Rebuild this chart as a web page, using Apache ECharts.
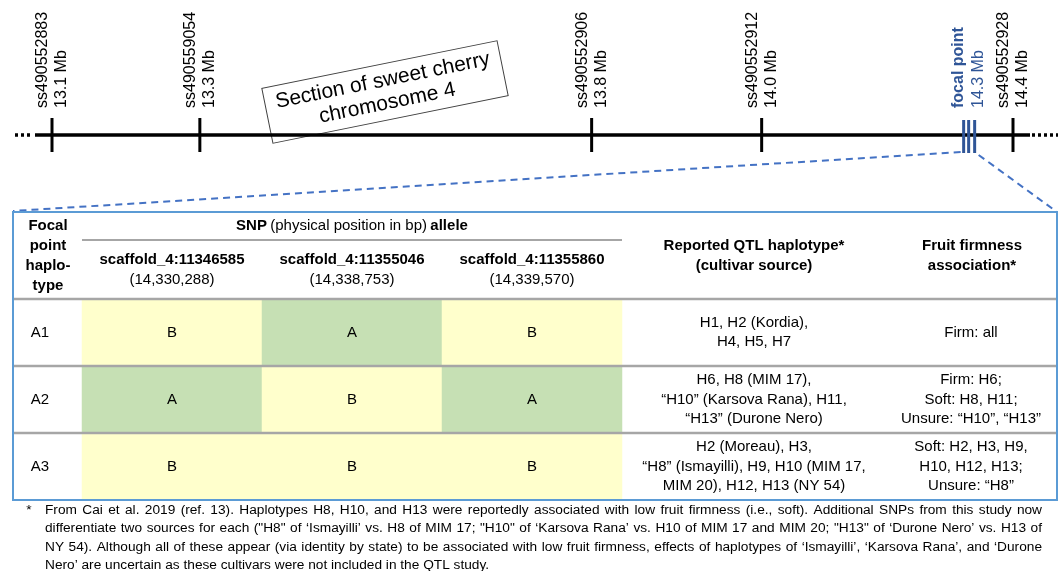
<!DOCTYPE html>
<html>
<head>
<meta charset="utf-8">
<script src="https://cdn.jsdelivr.net/npm/echarts@6/dist/echarts.min.js"></script>
<style>
  html, body { margin: 0; padding: 0; background: #fff; }
  #chart { width: 1060px; height: 571px; }
</style>
</head>
<body>
<div id="chart"></div>
<script>
// chromosome markers (schematic position along the drawn section, Mb)
const markerIds = ['ss490552883', 'ss490559054', 'ss490552906', 'ss490552912', 'ss490552928'];
const markerMb = ['13.1 Mb', '13.3 Mb', '13.8 Mb', '14.0 Mb', '14.4 Mb'];
const markerPos = [13.1, 13.3, 13.83, 14.06, 14.4];
const focalPos = 14.34;
const focalMb = '14.3 Mb';

// table
const haplotypes = ['A1', 'A2', 'A3'];
const snpIds = ['scaffold_4:11346585', 'scaffold_4:11355046', 'scaffold_4:11355860'];
const snpBp = ['(14,330,288)', '(14,338,753)', '(14,339,570)'];
const alleles = [
  ['B', 'A', 'B'],
  ['A', 'B', 'A'],
  ['B', 'B', 'B']
];
const qtlHaplotypes = [
  'H1, H2 (Kordia),\nH4, H5, H7',
  'H6, H8 (MIM 17),\n“H10” (Karsova Rana), H11,\n“H13” (Durone Nero)',
  'H2 (Moreau), H3,\n“H8” (Ismayilli), H9, H10 (MIM 17,\nMIM 20), H12, H13 (NY 54)'
];
const firmness = [
  'Firm: all',
  'Firm: H6;\nSoft: H8, H11;\nUnsure: “H10”, “H13”',
  'Soft: H2, H3, H9,\nH10, H12, H13;\nUnsure: “H8”'
];
const footnote = [
  'From Cai et al. 2019 (ref. 13). Haplotypes H8, H10, and H13 were reportedly associated with low fruit firmness (i.e., soft). Additional SNPs from this study now',
  'differentiate two sources for each ("H8" of ‘Ismayilli’ vs. H8 of MIM 17; "H10" of ‘Karsova Rana’ vs. H10 of MIM 17 and MIM 20; "H13" of ‘Durone Nero’ vs. H13 of',
  'NY 54). Although all of these appear (via identity by state) to be associated with low fruit firmness, effects of haplotypes of ‘Ismayilli’, ‘Karsova Rana’, and ‘Durone',
  'Nero’ are uncertain as these cultivars were not included in the QTL study.'
];

const FONT = '"Liberation Sans", Arial, sans-serif';
const BLUE = '#2F5597';
const LINK = '#4472C4';
const GREY = '#A6A6A6';
const TABLE = { left: 13, top: 212, right: 1057, bottom: 500 };
const LABEL_BASE = 108;
const NOTE_FONT = '13.7px ' + FONT;
const NOTE_LEFT = 45, NOTE_WIDTH = 997;

const chart = echarts.init(document.getElementById('chart'), null, { renderer: 'canvas' });

function vText(text, x, y, font, fill) {
  return {
    type: 'text', x: x, y: y, rotation: Math.PI / 2,
    style: { text: text, x: 0, y: 0, font: font, fill: fill, align: 'left', verticalAlign: 'middle' }
  };
}

function renderChromosome(params, api) {
  const y = api.coord([api.value(0), 0.5])[1];
  const x1 = api.coord([api.value(0), 0.5])[0] - 17;
  const x2 = api.coord([api.value(1), 0.5])[0] + 17;
  return {
    type: 'group',
    children: [
      { type: 'line', shape: { x1: x1, y1: y, x2: x2, y2: y }, style: { stroke: '#000', lineWidth: 3.5 } },
      { type: 'line', shape: { x1: x1 - 20, y1: y, x2: x1 - 2, y2: y }, style: { stroke: '#000', lineWidth: 3.5, lineDash: [3, 3] } },
      { type: 'line', shape: { x1: x2 + 2, y1: y, x2: x2 + 28, y2: y }, style: { stroke: '#000', lineWidth: 3.5, lineDash: [3, 3] } }
    ]
  };
}

function renderMarker(params, api) {
  const cs = params.coordSys;
  const x = api.coord([api.value(0), 0.5])[0];
  const i = params.dataIndex;
  return {
    type: 'group',
    children: [
      { type: 'line', shape: { x1: x, y1: cs.y, x2: x, y2: cs.y + cs.height }, style: { stroke: '#000', lineWidth: 3 } },
      vText(markerIds[i], x - 9, LABEL_BASE, '16px ' + FONT, '#000'),
      vText(markerMb[i], x + 10, LABEL_BASE, '16px ' + FONT, '#000')
    ]
  };
}

function renderFocal(params, api) {
  const cs = params.coordSys;
  const x = api.coord([api.value(0), 0.5])[0];
  const bars = [-5, 0, 6].map(function (d) {
    return { type: 'line', shape: { x1: x + d, y1: cs.y + 2, x2: x + d, y2: cs.y + cs.height + 1 }, style: { stroke: BLUE, lineWidth: 3 } };
  });
  return {
    type: 'group',
    children: bars.concat([
      vText('focal point', x - 10, LABEL_BASE, 'bold 16px ' + FONT, BLUE),
      vText(focalMb, x + 10, LABEL_BASE, '16px ' + FONT, BLUE),
      { type: 'line', shape: { x1: x - 8, y1: cs.y + cs.height, x2: TABLE.left, y2: TABLE.top - 1 }, style: { stroke: LINK, lineWidth: 2, lineDash: [7, 5] } },
      { type: 'line', shape: { x1: x + 10, y1: cs.y + cs.height + 3, x2: TABLE.right, y2: TABLE.top }, style: { stroke: LINK, lineWidth: 2, lineDash: [7, 5] } }
    ])
  };
}

function renderRow(params, api) {
  const i = params.dataIndex;
  const yc = api.coord([0, api.value(1)])[1];
  const bh = api.size([0, 1])[1];
  const top = yc - bh / 2;
  return {
    type: 'group',
    children: [
      { type: 'line', shape: { x1: TABLE.left, y1: top, x2: TABLE.right, y2: top }, style: { stroke: GREY, lineWidth: 2.5 } },
      { type: 'text', style: { text: qtlHaplotypes[i], x: 754, y: yc, font: '15px ' + FONT, fill: '#000', align: 'center', verticalAlign: 'middle', lineHeight: 19.5 } },
      { type: 'text', style: { text: firmness[i], x: 971, y: yc, font: '15px ' + FONT, fill: '#000', align: 'center', verticalAlign: 'middle', lineHeight: 19.5 } }
    ]
  };
}

const cellData = [];
alleles.forEach(function (row, yi) {
  row.forEach(function (a, xi) {
    cellData.push([xi, yi, a === 'A' ? 0 : 1]);
  });
});

const graphics = [
  { type: 'rect', z: 20, shape: { x: TABLE.left, y: TABLE.top, width: TABLE.right - TABLE.left, height: TABLE.bottom - TABLE.top },
    style: { fill: 'none', stroke: '#5B9BD5', lineWidth: 2 } },
  { type: 'line', z: 20, shape: { x1: 82, y1: 240, x2: 622, y2: 240 }, style: { stroke: GREY, lineWidth: 2 } },
  { type: 'text', z: 20, style: { text: 'Focal\npoint\nhaplo-\ntype', x: 48, y: 256, font: 'bold 15px ' + FONT, fill: '#000',
    align: 'center', verticalAlign: 'middle', lineHeight: 20 } },
  { type: 'text', z: 20, style: { text: '{b|SNP} {r|(physical position in bp)} {b|allele}', x: 352, y: 226, align: 'center', verticalAlign: 'middle',
    rich: { b: { font: 'bold 15px ' + FONT, fill: '#000' }, r: { font: '15px ' + FONT, fill: '#000' } } } },
  { type: 'text', z: 20, style: { text: 'Reported QTL haplotype*\n(cultivar source)', x: 754, y: 256, font: 'bold 15px ' + FONT, fill: '#000',
    align: 'center', verticalAlign: 'middle', lineHeight: 19.5 } },
  { type: 'text', z: 20, style: { text: 'Fruit firmness\nassociation*', x: 972, y: 256, font: 'bold 15px ' + FONT, fill: '#000',
    align: 'center', verticalAlign: 'middle', lineHeight: 19.5 } },
  { type: 'group', x: 385, y: 92, rotation: 0.2, z: 30, children: [
    { type: 'rect', shape: { x: -120, y: -28, width: 240, height: 56 }, style: { fill: '#fff', stroke: '#404040', lineWidth: 1 } },
    { type: 'text', style: { text: 'Section of sweet cherry\nchromosome 4', x: 0, y: 0, font: '21px ' + FONT, fill: '#000',
      align: 'center', verticalAlign: 'middle', lineHeight: 23 } }
  ] },
  { type: 'text', z: 20, style: { text: '*', x: 29, y: 510, font: NOTE_FONT, fill: '#000', align: 'center', verticalAlign: 'middle' } }
];

// footnote is justified: spread the words of each full line across the block width
const measure = document.createElement('canvas').getContext('2d');
measure.font = NOTE_FONT;
footnote.forEach(function (line, i) {
  const y = 510 + i * 18.5;
  const words = line.split(' ');
  const last = i === footnote.length - 1;
  const widths = words.map(function (w) { return measure.measureText(w).width; });
  const total = widths.reduce(function (a, b) { return a + b; }, 0);
  const gap = last ? measure.measureText(' ').width : (NOTE_WIDTH - total) / (words.length - 1);
  let x = NOTE_LEFT;
  words.forEach(function (w, k) {
    graphics.push({ type: 'text', z: 20, style: { text: w, x: x, y: y, font: NOTE_FONT, fill: '#000', align: 'left', verticalAlign: 'middle' } });
    x += widths[k] + gap;
  });
});

const option = {
  animation: false,
  backgroundColor: '#fff',
  grid: [
    { left: 52, right: 47, top: 118, height: 34 },
    { left: 82, top: 299, width: 540, height: 201 }
  ],
  xAxis: [
    { gridIndex: 0, type: 'value', min: 13.1, max: 14.4, show: false },
    { gridIndex: 1, type: 'category', data: snpIds, position: 'top',
      axisLine: { show: false }, axisTick: { show: false }, splitLine: { show: false },
      axisLabel: {
        interval: 0, margin: 9,
        formatter: function (v, i) { return '{b|' + v + '}\n{r|' + snpBp[i] + '}'; },
        rich: {
          b: { fontFamily: FONT, fontWeight: 'bold', fontSize: 15, color: '#000', lineHeight: 20 },
          r: { fontFamily: FONT, fontSize: 15, color: '#000', lineHeight: 20 }
        }
      } }
  ],
  yAxis: [
    { gridIndex: 0, type: 'value', min: 0, max: 1, show: false },
    { gridIndex: 1, type: 'category', data: haplotypes, inverse: true,
      axisLine: { show: false }, axisTick: { show: false }, splitLine: { show: false },
      axisLabel: { align: 'center', margin: 42, fontFamily: FONT, fontSize: 15, color: '#000' } }
  ],
  visualMap: {
    type: 'piecewise', show: false, seriesIndex: 3, dimension: 2,
    pieces: [{ value: 0, color: '#C6E0B4' }, { value: 1, color: '#FFFFCC' }]
  },
  series: [
    { type: 'custom', name: 'chromosome', xAxisIndex: 0, yAxisIndex: 0, renderItem: renderChromosome,
      data: [[markerPos[0], markerPos[markerPos.length - 1]]], silent: true, z: 2 },
    { type: 'custom', name: 'markers', xAxisIndex: 0, yAxisIndex: 0, renderItem: renderMarker,
      data: markerPos.map(function (p) { return [p]; }), silent: true, z: 3 },
    { type: 'custom', name: 'focal', xAxisIndex: 0, yAxisIndex: 0, renderItem: renderFocal,
      data: [[focalPos]], silent: true, z: 3 },
    { type: 'heatmap', name: 'alleles', xAxisIndex: 1, yAxisIndex: 1, data: cellData,
      label: {
        show: true, fontFamily: FONT, fontSize: 15, color: '#000',
        formatter: function (p) { return alleles[p.value[1]][p.value[0]]; }
      } },
    { type: 'custom', name: 'rows', xAxisIndex: 1, yAxisIndex: 1, renderItem: renderRow,
      data: haplotypes.map(function (h, i) { return [0, i]; }), silent: true, z: 5 }
  ],
  graphic: graphics
};

chart.setOption(option);
window.addEventListener('resize', function () { chart.resize(); });
</script>
</body>
</html>
